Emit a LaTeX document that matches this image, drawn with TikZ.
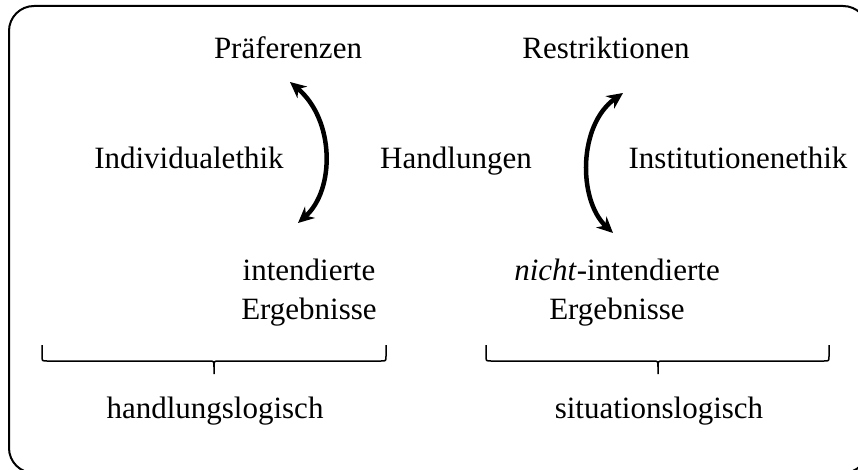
\documentclass[tikz,border=0pt]{standalone}
\usepackage{fontspec}
\setmainfont{Liberation Serif}
\usetikzlibrary{arrows.meta}

\tikzset{
  word/.style={inner sep=0pt, anchor=base, font=\fontsize{31}{38.5}\selectfont},
  twoway/.style={line width=4.5pt, {Stealth[length=16pt,width=15pt]}-{Stealth[length=16pt,width=15pt]}},
  bracket/.style={line width=1.5pt},
}

\begin{document}
\begin{tikzpicture}[x=1pt,y=-1pt]
	\useasboundingbox (0,0) rectangle (858,470);
	% frame
	\draw[line width=2pt, rounded corners=25pt] (9,6) rectangle (868,473);
	% top row
	\node[word] (pref) at (288,59) {Präferenzen};
	\node[word] (restr) at (606,59) {Restriktionen};
	% middle row
	\node[word] (indiv) at (189,169) {Individualethik};
	\node[word] (handl) at (456,169) {Handlungen};
	\node[word] (inst) at (738,169) {Institutionenethik};
	% results
	\node[word, anchor=north, align=center] (intend) at (309,259) {intendierte\\Ergebnisse};
	\node[word, anchor=north, align=center] (nicht) at (617,259) {\textit{nicht}-intendierte\\Ergebnisse};
	% arrows
	\draw[twoway] ([xshift=2pt,yshift=-23pt]pref.base) .. controls +(45,38) and +(37,-33) .. ([xshift=-11pt,yshift=36pt]intend.north);
	\draw[twoway] ([xshift=17pt,yshift=-34pt]restr.base) .. controls +(-45,32) and +(-35,-33) .. ([xshift=-4pt,yshift=26pt]nicht.north);
	% brace left
	\draw[bracket] (42,345) -- (42,356) .. controls (42,361) .. (47,361) -- (209,361)
		.. controls (214,361) .. (214,367) -- (214,374);
	\draw[bracket] (214,367) .. controls (214,361) .. (219,361) -- (381,361)
		.. controls (386,361) .. (386,356) -- (386,345);
	% brace right
	\draw[bracket] (486,345) -- (486,356) .. controls (486,361) .. (491,361) -- (653,361)
		.. controls (658,361) .. (658,367) -- (658,374);
	\draw[bracket] (658,367) .. controls (658,361) .. (663,361) -- (824,361)
		.. controls (829,361) .. (829,356) -- (829,345);
	% bottom
	\node[word] (hlog) at (215,418) {handlungslogisch};
	\node[word] (slog) at (659,418) {situationslogisch};
\end{tikzpicture}
\end{document}
